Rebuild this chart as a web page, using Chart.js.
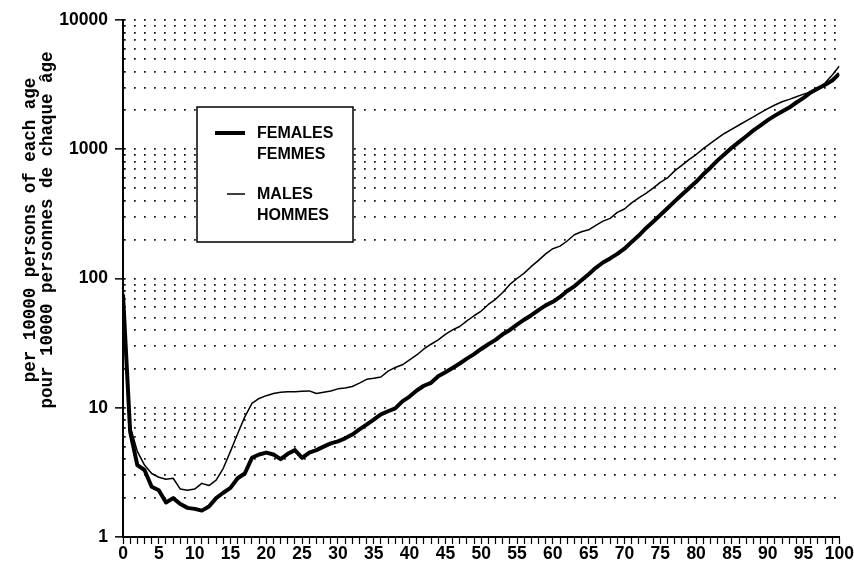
<!DOCTYPE html>
<html>
<head>
<meta charset="utf-8">
<script src="https://cdn.jsdelivr.net/npm/chart.js@4/dist/chart.umd.min.js"></script>
<style>
  body { margin: 0; background: #fff; }
  canvas { display: block; }
</style>
</head>
<body>
<canvas id="mortality" width="854" height="567"></canvas>
<script>
// age in completed years, 0 .. 100
const ages = Array.from({ length: 101 }, (_, i) => i);

// deaths per 10000 persons of each age
const femaleRate = [
  75, 6.5, 3.6, 3.3, 2.45, 2.3, 1.85, 2.0, 1.8, 1.68,
  1.65, 1.6, 1.72, 2.0, 2.2, 2.4, 2.85, 3.1, 4.1, 4.35,
  4.5, 4.35, 4.0, 4.4, 4.7, 4.1, 4.5, 4.7, 5.0, 5.3,
  5.5, 5.8, 6.2, 6.8, 7.4, 8.1, 8.9, 9.4, 9.9, 11.2,
  12.2, 13.6, 14.8, 15.6, 17.5, 18.8, 20.3, 22, 24, 26,
  28.5, 31, 33.5, 37, 40, 44, 48, 52, 57, 62,
  66, 72, 80, 87, 97, 108, 121, 133, 143, 155,
  170, 192, 215, 245, 275, 310, 350, 395, 445, 500,
  560, 640, 720, 820, 920, 1030, 1140, 1260, 1400, 1530,
  1680, 1820, 1960, 2100, 2300, 2500, 2750, 2950, 3150, 3400,
  3850
];

const maleRate = [
  90, 7.2, 4.6, 3.6, 3.1, 2.9, 2.8, 2.85, 2.35, 2.3,
  2.35, 2.6, 2.5, 2.75, 3.4, 4.6, 6.3, 8.5, 10.8, 11.8,
  12.4, 12.9, 13.2, 13.3, 13.3, 13.4, 13.5, 12.9, 13.2, 13.5,
  14.0, 14.2, 14.6, 15.5, 16.6, 16.9, 17.3, 19.2, 20.5, 21.5,
  23.5, 25.6, 28.5, 31, 33.5, 37, 40, 42.5, 47, 51.5,
  56, 63, 69, 78, 90, 100, 110, 124, 138, 155,
  170, 178, 195, 218, 230, 238, 258, 278, 292, 325,
  345, 385, 420, 455, 500, 555, 600, 680, 750, 830,
  910, 1010, 1110, 1220, 1330, 1430, 1540, 1660, 1780, 1920,
  2060, 2200, 2330, 2430, 2550, 2670, 2780, 2900, 3250, 3750,
  4400
];

// labelled decades and the dotted lines in between
const yDecades = [1, 10, 100, 1000, 10000];
const yGridValues = [
  1, 2, 3, 4, 5, 6, 7, 8, 9,
  10, 20, 30, 40, 50, 60, 70, 80, 90,
  100, 200, 300, 400, 500, 600, 700, 800, 900,
  1000, 2000, 3000, 4000, 5000, 6000, 7000, 8000, 9000,
  10000
];

const femaleLegend = ['FEMALES', 'FEMMES'];
const maleLegend = ['MALES', 'HOMMES'];
const yTitle = ['per 10000 persons of each age', 'pour 10000 personnes de chaque âge'];

const tickFont = { family: '"Liberation Sans", Arial, sans-serif', size: 17.5, weight: 'bold' };

function points(values) {
  return values.map((v, i) => ({ x: ages[i], y: v }));
}

// boxed legend with a line sample and two-language names
const boxLegend = {
  id: 'boxLegend',
  afterDraw(chart) {
    const ctx = chart.ctx;
    const sets = chart.data.datasets;
    ctx.save();
    ctx.fillStyle = '#fff';
    ctx.fillRect(197, 107, 156, 135);
    ctx.strokeStyle = '#000';
    ctx.lineWidth = 1.5;
    ctx.strokeRect(197, 107, 156, 135);

    ctx.font = 'bold 16px "Liberation Sans", Arial, sans-serif';
    ctx.fillStyle = '#000';
    ctx.textBaseline = 'middle';
    const rows = [
      { set: sets[0], names: femaleLegend, y: 133, x0: 215 },
      { set: sets[1], names: maleLegend, y: 194, x0: 227 }
    ];
    rows.forEach(r => {
      ctx.lineWidth = r.set.borderWidth;
      ctx.strokeStyle = r.set.borderColor;
      ctx.beginPath();
      ctx.moveTo(r.x0, r.y);
      ctx.lineTo(245, r.y);
      ctx.stroke();
      ctx.fillText(r.names[0], 257, r.y + 1);
      ctx.fillText(r.names[1], 257, r.y + 22);
    });
    ctx.restore();
  }
};

// two-line rotated y axis title
const sideTitle = {
  id: 'sideTitle',
  afterDraw(chart) {
    const ctx = chart.ctx;
    ctx.save();
    ctx.font = 'bold 17.5px "Liberation Mono", "Courier New", monospace';
    ctx.fillStyle = '#000';
    ctx.textAlign = 'center';
    ctx.textBaseline = 'middle';
    [31, 48].forEach((x, i) => {
      ctx.save();
      ctx.translate(x, 230);
      ctx.rotate(-Math.PI / 2);
      ctx.fillText(yTitle[i], 0, 0);
      ctx.restore();
    });
    ctx.restore();
  }
};

new Chart(document.getElementById('mortality'), {
  type: 'line',
  data: {
    datasets: [{
      label: femaleLegend.join(' / '),
      data: points(femaleRate),
      borderColor: '#000',
      borderWidth: 4,
      pointRadius: 0,
      tension: 0,
      borderJoinStyle: 'round'
    }, {
      label: maleLegend.join(' / '),
      data: points(maleRate),
      borderColor: '#000',
      borderWidth: 1.5,
      pointRadius: 0,
      tension: 0,
      borderJoinStyle: 'round'
    }]
  },
  options: {
    responsive: false,
    animation: false,
    layout: { padding: { top: 20, right: 14, left: 0, bottom: 0 } },
    plugins: {
      legend: { display: false },
      tooltip: { enabled: false }
    },
    scales: {
      x: {
        type: 'linear',
        min: 0,
        max: 100,
        afterFit: scale => { scale.height = 30; },
        ticks: {
          stepSize: 1,
          autoSkip: false,
          maxTicksLimit: 200,
          maxRotation: 0,
          padding: 0,
          color: '#000',
          font: tickFont,
          callback: v => (v % 5 === 0 ? String(v) : '')
        },
        grid: {
          drawOnChartArea: false,
          tickLength: 7,
          tickWidth: 1.2,
          tickColor: '#000'
        },
        border: { color: '#000', width: 2 }
      },
      y: {
        type: 'logarithmic',
        min: 1,
        max: 10000,
        afterFit: scale => { scale.width = 123; },
        afterBuildTicks: scale => {
          scale.ticks = yGridValues.map(v => ({ value: v, major: yDecades.includes(v) }));
        },
        ticks: {
          autoSkip: false,
          padding: 7,
          color: '#000',
          font: tickFont,
          callback: v => (yDecades.includes(v) ? String(v) : '')
        },
        grid: {
          color: ctx => (ctx.tick && ctx.tick.value === 1 ? 'rgba(0,0,0,0)' : '#111'),
          lineWidth: 1.7,
          tickLength: 8,
          tickWidth: 1.5,
          tickColor: ctx => (ctx.tick && yDecades.includes(ctx.tick.value) ? '#000' : 'rgba(0,0,0,0)')
        },
        border: { color: '#000', width: 2, dash: [1.7, 8.3] }
      }
    }
  },
  plugins: [boxLegend, sideTitle]
});
</script>
</body>
</html>
